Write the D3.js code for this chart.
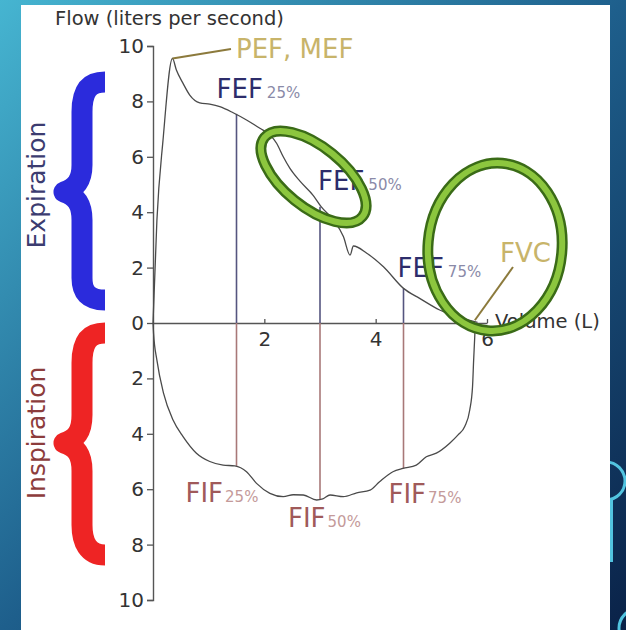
<!DOCTYPE html>
<html>
<head>
<meta charset="utf-8">
<script src="https://cdn.jsdelivr.net/npm/d3@7"></script>
<style>
  body { margin: 0; }
  svg { display: block; font-family: "DejaVu Sans", sans-serif; }
</style>
</head>
<body>
<div id="vis"></div>
<script>
// expiration branch (volume L, flow L/s)
const expVolume = [0, 0.07, 0.18, 0.35, 0.42, 0.54, 0.66, 0.84, 1.02, 1.2, 1.44, 1.68, 1.92, 2.1, 2.22, 2.34, 2.46, 2.64, 2.88, 3.02, 3.24, 3.42, 3.54, 3.6, 3.84, 4.14, 4.5, 4.79, 5.15, 5.5, 5.83];
const expFlow = [0, 3.7, 6.6, 9.55, 9.13, 8.65, 8.23, 7.95, 7.9, 7.81, 7.59, 7.33, 7.03, 6.79, 6.49, 6.0, 5.58, 5.12, 4.6, 4.2, 3.72, 3.12, 2.45, 2.78, 2.52, 2.03, 1.25, 0.89, 0.47, 0.2, 0.02];

// inspiration branch (flow drawn below the axis)
const inspVolume = [0, 0.01, 0.07, 0.19, 0.36, 0.54, 0.78, 1.02, 1.26, 1.47, 1.68, 1.86, 2.1, 2.34, 2.52, 2.7, 2.94, 3.05, 3.18, 3.42, 3.66, 3.9, 4.07, 4.31, 4.49, 4.73, 4.91, 5.09, 5.33, 5.48, 5.6, 5.69, 5.74, 5.76, 5.78, 5.79];
const inspFlow = [0, 0.37, 1.34, 2.54, 3.5, 4.1, 4.7, 5.0, 5.13, 5.16, 5.37, 5.79, 6.15, 6.27, 6.2, 6.21, 6.39, 6.35, 6.21, 6.27, 6.13, 6.03, 5.73, 5.37, 5.25, 5.13, 4.83, 4.7, 4.34, 4.04, 3.74, 3.14, 2.3, 1.34, 0.49, 0];

// markers at 25/50/75 %
const markerVolume = [1.5, 3.0, 4.5];
const markerSub = ["25%", "50%", "75%"];
const fefValues = [7.55, 4.2, 1.25];
const fifValues = [5.16, 6.39, 5.25];

const yTicks = [10, 8, 6, 4, 2, 0, -2, -4, -6, -8, -10];
const xTicks = [2, 4, 6];
const pef = {volume: 0.35, flow: 9.55};
const fvc = {volume: 5.8, flow: 0.1};

const width = 626, height = 630;

const svg = d3.select("#vis").append("svg")
  .attr("width", width)
  .attr("height", height);

// slide background
const defs = svg.append("defs");
const grad = defs.append("linearGradient")
  .attr("id", "bg").attr("x1", 0).attr("y1", 0).attr("x2", 1).attr("y2", 1);
grad.append("stop").attr("offset", 0).attr("stop-color", "#46b5d1");
grad.append("stop").attr("offset", 0.5).attr("stop-color", "#1e5f8c");
grad.append("stop").attr("offset", 1).attr("stop-color", "#0a2248");
svg.append("rect").attr("width", width).attr("height", height).attr("fill", "url(#bg)");

// little decorations on the right edge
const deco = svg.append("g").attr("fill", "none").attr("stroke", "#52c4e0").attr("stroke-width", 3);
deco.append("circle").attr("cx", 606).attr("cy", 481).attr("r", 19);
deco.append("line").attr("x1", 611.5).attr("x2", 611.5).attr("y1", 500).attr("y2", 562);
deco.append("circle").attr("cx", 638).attr("cy", 628).attr("r", 19);

// white panel
svg.append("rect").attr("x", 21).attr("y", 5).attr("width", 589).attr("height", 630).attr("fill", "#fff");

const x = d3.scaleLinear().domain([0, 6]).range([153, 487]);
const y = d3.scaleLinear().domain([10, -10]).range([46, 600]);

// axes
const yAxis = svg.append("g")
  .attr("transform", `translate(${x(0)},0)`)
  .call(d3.axisLeft(y).tickValues(yTicks).tickFormat(d => Math.abs(d)).tickSize(6).tickPadding(3));
const xAxis = svg.append("g")
  .attr("transform", `translate(0,${y(0)})`)
  .call(d3.axisBottom(x).tickValues(xTicks).tickFormat(d3.format("d")).tickSize(-4).tickSizeOuter(0).tickPadding(9));
[yAxis, xAxis].forEach(a => {
  a.select(".domain").attr("stroke", "#555").attr("stroke-width", 1.4);
  a.selectAll(".tick line").attr("stroke", "#555").attr("stroke-width", 1.3);
  a.selectAll(".tick text").attr("fill", "#333").style("font-size", "20px").style("font-family", "DejaVu Sans");
});

svg.append("text")
  .attr("x", 55).attr("y", 25)
  .attr("fill", "#333").style("font-size", "19.5px")
  .text("Flow (liters per second)");
svg.append("text")
  .attr("x", 495).attr("y", 328)
  .attr("fill", "#333").style("font-size", "19.5px")
  .text("Volume (L)");

// marker verticals
svg.selectAll(".fefLine").data(markerVolume).join("line")
  .attr("x1", d => x(d)).attr("x2", d => x(d))
  .attr("y1", y(0)).attr("y2", (d, i) => y(fefValues[i]))
  .attr("stroke", "#55557f").attr("stroke-width", 1.6);
svg.selectAll(".fifLine").data(markerVolume).join("line")
  .attr("x1", d => x(d)).attr("x2", d => x(d))
  .attr("y1", y(0)).attr("y2", (d, i) => y(-fifValues[i]))
  .attr("stroke", "#a87878").attr("stroke-width", 1.6);

// loop curves
const line = d3.line().curve(d3.curveMonotoneX);
svg.append("path")
  .attr("d", line(expVolume.map((v, i) => [x(v), y(expFlow[i])])))
  .attr("fill", "none").attr("stroke", "#4a4a4a").attr("stroke-width", 1.3);
svg.append("path")
  .attr("d", line(inspVolume.map((v, i) => [x(v), y(-inspFlow[i])])))
  .attr("fill", "none").attr("stroke", "#4a4a4a").attr("stroke-width", 1.3);

// PEF / FVC call-outs
svg.append("line")
  .attr("x1", x(pef.volume)).attr("y1", y(pef.flow))
  .attr("x2", 231).attr("y2", 49)
  .attr("stroke", "#8c7a3c").attr("stroke-width", 2);
svg.append("text").attr("x", 236).attr("y", 58)
  .attr("fill", "#c8b46a").style("font-size", "26px").text("PEF, MEF");
svg.append("line")
  .attr("x1", x(fvc.volume) - 1).attr("y1", y(fvc.flow))
  .attr("x2", 513).attr("y2", 267)
  .attr("stroke", "#8c7a3c").attr("stroke-width", 2);
svg.append("text").attr("x", 500).attr("y", 262)
  .attr("fill", "#c8b46a").style("font-size", "26px").text("FVC");

// FEF / FIF labels
const fefPos = [[-20, 98], [-2, 190], [-6, 277]];
const fifPos = [[-51, 502], [-32, 527], [-15, 503]];
markerVolume.forEach((v, i) => {
  const t = svg.append("text")
    .attr("x", x(v) + fefPos[i][0]).attr("y", fefPos[i][1])
    .attr("fill", "#2d2d6b").style("font-size", "26px");
  t.append("tspan").text("FEF");
  t.append("tspan").attr("dx", 4).attr("fill", "#8a8aa8").style("font-size", "15px").text(markerSub[i]);

  const f = svg.append("text")
    .attr("x", x(v) + fifPos[i][0]).attr("y", fifPos[i][1])
    .attr("fill", "#a05a5a").style("font-size", "26px");
  f.append("tspan").text("FIF");
  f.append("tspan").attr("dx", 2).attr("fill", "#c49a9a").style("font-size", "15px").text(markerSub[i]);
});

// braces + side labels
svg.append("path")
  .attr("d", "M105,82 C88,82 82,92 82,112 L82,165 C82,180 76,188 64,192 C76,196 82,204 82,220 L82,278 C82,292 88,300 105,300")
  .attr("fill", "none").attr("stroke", "#2b2bdc").attr("stroke-width", 21).attr("stroke-linejoin", "round");
svg.append("path")
  .attr("d", "M105,333 C88,333 82,343 82,363 L82,415 C82,432 76,439 64,443 C76,447 82,454 82,471 L82,525 C82,542 88,555 105,555")
  .attr("fill", "none").attr("stroke", "#ee2424").attr("stroke-width", 21).attr("stroke-linejoin", "round");

svg.append("text")
  .attr("transform", "translate(45,185) rotate(-90)")
  .attr("text-anchor", "middle").attr("fill", "#3c3c70").style("font-size", "25px")
  .text("Expiration");
svg.append("text")
  .attr("transform", "translate(45,433) rotate(-90)")
  .attr("text-anchor", "middle").attr("fill", "#8c3c3c").style("font-size", "25px")
  .text("Inspiration");

// green highlight ellipses
const rings = [
  {cx: 313.5, cy: 177, rx: 63, ry: 30, rot: 39},
  {cx: 495, cy: 247, rx: 67, ry: 84, rot: 5}
];
rings.forEach(r => {
  const g = svg.append("g").attr("transform", `translate(${r.cx},${r.cy}) rotate(${r.rot})`);
  g.append("ellipse").attr("rx", r.rx).attr("ry", r.ry)
    .attr("fill", "none").attr("stroke", "#3a6b17").attr("stroke-width", 11);
  g.append("ellipse").attr("rx", r.rx).attr("ry", r.ry)
    .attr("fill", "none").attr("stroke", "#8cc63e").attr("stroke-width", 6);
});
</script>
</body>
</html>
